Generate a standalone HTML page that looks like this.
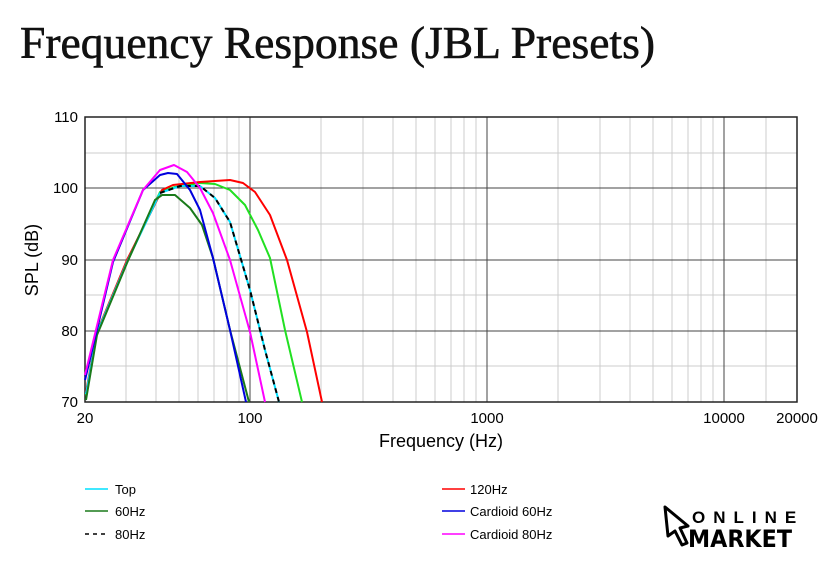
<!DOCTYPE html><html><head><style>body{margin:0;background:#fff;width:840px;height:562px;overflow:hidden}</style></head><body>
<svg width="840" height="562" xmlns="http://www.w3.org/2000/svg" font-family="Liberation Sans, sans-serif">
<text x="20" y="58" font-family="Liberation Serif, serif" font-size="46" fill="#111" stroke="#111" stroke-width="0.6" textLength="635" lengthAdjust="spacingAndGlyphs">Frequency Response (JBL Presets)</text>
<g stroke="#ccc" stroke-width="1">
<line x1="126" y1="117" x2="126" y2="402"/><line x1="156" y1="117" x2="156" y2="402"/><line x1="179" y1="117" x2="179" y2="402"/><line x1="198" y1="117" x2="198" y2="402"/><line x1="214" y1="117" x2="214" y2="402"/><line x1="227" y1="117" x2="227" y2="402"/><line x1="239" y1="117" x2="239" y2="402"/>
<line x1="321" y1="117" x2="321" y2="402"/><line x1="363" y1="117" x2="363" y2="402"/><line x1="393" y1="117" x2="393" y2="402"/><line x1="416" y1="117" x2="416" y2="402"/><line x1="435" y1="117" x2="435" y2="402"/><line x1="451" y1="117" x2="451" y2="402"/><line x1="464" y1="117" x2="464" y2="402"/><line x1="476" y1="117" x2="476" y2="402"/>
<line x1="558" y1="117" x2="558" y2="402"/><line x1="600" y1="117" x2="600" y2="402"/><line x1="630" y1="117" x2="630" y2="402"/><line x1="653" y1="117" x2="653" y2="402"/><line x1="672" y1="117" x2="672" y2="402"/><line x1="688" y1="117" x2="688" y2="402"/><line x1="701" y1="117" x2="701" y2="402"/><line x1="713" y1="117" x2="713" y2="402"/>
<line x1="766" y1="117" x2="766" y2="402"/>
<line x1="85" y1="153" x2="797" y2="153"/><line x1="85" y1="224" x2="797" y2="224"/><line x1="85" y1="295" x2="797" y2="295"/><line x1="85" y1="366" x2="797" y2="366"/>
</g>
<g stroke="#444" stroke-width="1">
<line x1="250" y1="117" x2="250" y2="402"/><line x1="487" y1="117" x2="487" y2="402"/><line x1="724" y1="117" x2="724" y2="402"/>
<line x1="85" y1="188" x2="797" y2="188"/><line x1="85" y1="260" x2="797" y2="260"/><line x1="85" y1="331" x2="797" y2="331"/>
</g>
<rect x="85" y="117" width="712" height="285" fill="none" stroke="#222" stroke-width="1.5"/>
<g fill="none" stroke-width="2" stroke-linejoin="round">
<path stroke="#22e022" d="M86,395 L97,333 L127,262 L160,192 L175,187 L200,183 L215,184 L230,190 L245,205 L258,230 L270,258 L285,330 L302,402"/>
<path stroke="#ff0000" d="M86,392 L97,332 L127,260 L162,190 L173,185 L200,182 L230,180 L243,183 L255,192 L270,215 L287,260 L307,332 L322,402"/>
<path stroke="#00e0ff" d="M86,394 L97,333 L127,262 L160,193 L180,186 L200,186 L215,198 L230,222 L250,290 L265,350 L279,402"/>
<path stroke="#000" stroke-dasharray="5,4" d="M160,193 L180,186 L200,186 L215,198 L230,222 L250,290 L265,350 L279,402"/>
<path stroke="#1a7a1a" d="M86,400 L97,335 L127,263 L155,200 L162,195 L175,195 L190,208 L202,225 L213,258 L230,330 L249,402"/>
<path stroke="#0000dd" d="M85,380 L113,262 L143,190 L160,175 L168,173 L177,174 L190,190 L200,210 L213,258 L230,330 L246,402"/>
<path stroke="#ff00ff" d="M85,375 L113,260 L143,190 L160,170 L174,165 L187,172 L200,188 L213,213 L230,260 L250,332 L265,402"/>
</g>
<g font-size="15" fill="#000">
<text x="78" y="122" text-anchor="end">110</text><text x="78" y="193" text-anchor="end">100</text><text x="78" y="265" text-anchor="end">90</text><text x="78" y="336" text-anchor="end">80</text><text x="78" y="407" text-anchor="end">70</text>
<text x="85" y="423" text-anchor="middle">20</text><text x="250" y="423" text-anchor="middle">100</text><text x="487" y="423" text-anchor="middle">1000</text><text x="724" y="423" text-anchor="middle">10000</text><text x="797" y="423" text-anchor="middle">20000</text>
<text x="441" y="447" text-anchor="middle" font-size="18">Frequency (Hz)</text>
<text transform="translate(38,260) rotate(-90)" text-anchor="middle" font-size="18">SPL (dB)</text>
</g>
<g font-size="13" fill="#000" stroke-width="1.5">
<line x1="85" y1="489" x2="108" y2="489" stroke="#00e0ff"/><text x="115" y="494">Top</text>
<line x1="85" y1="511" x2="108" y2="511" stroke="#1a7a1a"/><text x="115" y="516">60Hz</text>
<line x1="85" y1="534" x2="108" y2="534" stroke="#000" stroke-dasharray="4,4"/><text x="115" y="539">80Hz</text>
<line x1="442" y1="489" x2="465" y2="489" stroke="#ff0000"/><text x="470" y="494">120Hz</text>
<line x1="442" y1="511" x2="465" y2="511" stroke="#0000dd"/><text x="470" y="516">Cardioid 60Hz</text>
<line x1="442" y1="534" x2="465" y2="534" stroke="#ff00ff"/><text x="470" y="539">Cardioid 80Hz</text>
</g>
<path d="M665,507 L688,526 L680,528 L687,543 L682,545 L675,531 L668,536 Z" fill="#fff" stroke="#000" stroke-width="3" stroke-linejoin="round"/>
<text x="692" y="523" font-size="17" font-weight="bold" letter-spacing="8" fill="#000">ONLINE</text>
<text x="688" y="547" font-size="24" font-weight="bold" fill="#000" font-family="DejaVu Sans, sans-serif" textLength="104" lengthAdjust="spacingAndGlyphs">MARKET</text>
</svg>
</body></html>
